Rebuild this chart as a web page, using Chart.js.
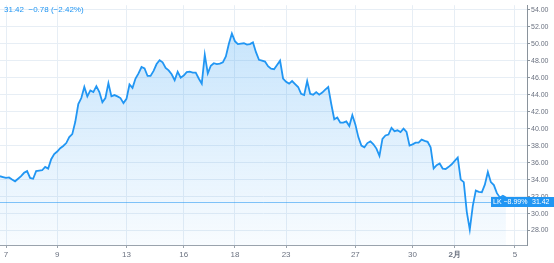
<!DOCTYPE html>
<html>
<head>
<meta charset="utf-8">
<script src="https://cdn.jsdelivr.net/npm/chart.js@4/dist/chart.umd.min.js"></script>
<style>
  html, body { margin: 0; padding: 0; background: #fff; }
  #wrap { position: relative; width: 554px; height: 263px; }
  #head { position: absolute; left: 4px; top: 5px; font: 8px "Liberation Sans", Arial, sans-serif; color: #2196f3; }
</style>
</head>
<body>
<div id="wrap">
  <canvas id="chart" width="554" height="263"></canvas>
  <div id="head">31.42 &nbsp;−0.78 (−2.42%)</div>
</div>
<script>
// slots along the time axis and the day labels shown on it
const slotCount = 176;
const tickSlots = [2, 19, 42, 61, 78, 95, 118, 137, 151, 171];
const tickText = ["7", "9", "13", "16", "18", "23", "27", "30", "2月", "5"];

// price per slot
const prices = [
  34.4, 34.3, 34.2, 34.25, 34.0, 33.8, 34.1, 34.4, 34.8, 35.0,
  34.2, 34.1, 35.0, 35.05, 35.1, 35.5, 35.3, 36.4, 37.0, 37.3,
  37.7, 37.96, 38.3, 39.0, 39.35, 40.8, 42.9, 43.6, 44.9, 43.8,
  44.5, 44.3, 45.0, 44.3, 43.1, 43.6, 45.35, 43.8, 43.95, 43.8,
  43.6, 43.0, 43.5, 45.2, 44.8, 45.9, 46.5, 47.25, 47.1, 46.2,
  46.2, 46.8, 47.6, 48.05, 47.8, 47.15, 46.85, 46.4, 45.7, 46.7,
  46.0, 46.25, 46.65, 46.7, 46.6, 46.6, 45.9, 45.3, 48.7, 46.5,
  47.4, 47.7, 47.6, 47.65, 47.8, 48.5, 50.0, 51.2, 50.3, 49.95,
  50.0, 50.05, 49.9, 49.95, 50.15, 49.0, 48.1, 48.0, 47.9, 47.35,
  47.05, 47.0, 47.5, 48.0, 45.9, 45.5, 45.3, 45.6, 45.25, 44.9,
  44.1, 43.95, 45.6, 44.1, 44.0, 44.3, 44.0, 44.25, 44.6, 44.9,
  42.9, 41.1, 41.3, 40.7, 40.7, 40.85, 40.3, 41.6, 40.5, 39.0,
  38.0, 37.8, 38.3, 38.5, 38.15, 37.65, 36.8, 38.8, 39.2, 39.3,
  40.1, 39.7, 39.8, 39.6, 40.0, 39.6, 38.0, 38.15, 38.35, 38.35,
  38.7, 38.55, 38.45, 37.8, 35.3, 35.7, 35.9, 35.3, 35.25, 35.5,
  35.8, 36.2, 36.6, 34.0, 33.7, 30.2, 28.1, 30.9, 32.7, 32.55,
  32.5, 33.4, 34.9, 33.7, 33.35, 32.4, 31.9, 32.1, 31.9
];

const yTicks = [28, 30, 32, 34, 36, 38, 40, 42, 44, 46, 48, 50, 52, 54];
const lastPrice = 31.42;
const badgeText = "LK −8.99%";

const labels = [];
for (let i = 0; i < slotCount; i++) {
  const k = tickSlots.indexOf(i);
  labels.push(k >= 0 ? tickText[k] : "");
}

const blue = "#2196f3";
const gridColor = "#e7eef5";

const priceBadge = {
  id: "priceBadge",
  afterDatasetsDraw(chart) {
    const ctx = chart.ctx;
    const area = chart.chartArea;
    const y = chart.scales.y.getPixelForValue(lastPrice);
    ctx.save();
    ctx.strokeStyle = "rgba(33,150,243,0.55)";
    ctx.lineWidth = 1;
    ctx.beginPath();
    ctx.moveTo(area.left, Math.round(y) + 0.5);
    ctx.lineTo(area.right, Math.round(y) + 0.5);
    ctx.stroke();
    ctx.fillStyle = blue;
    ctx.fillRect(area.right - 36, Math.round(y) - 5, 36 + 27, 10);
    ctx.fillStyle = "#fff";
    ctx.font = "7px 'Liberation Sans', Arial, sans-serif";
    ctx.textBaseline = "middle";
    ctx.textAlign = "left";
    ctx.fillText(badgeText, area.right - 34, y + 0.5);
    ctx.fillText(lastPrice.toFixed(2), area.right + 5, y + 0.5);
    ctx.restore();
  }
};

new Chart(document.getElementById("chart"), {
  type: "line",
  data: {
    labels: labels,
    datasets: [{
      data: prices,
      borderColor: blue,
      borderWidth: 1.8,
      pointRadius: 0,
      tension: 0,
      fill: "start",
      backgroundColor: (c) => {
        const a = c.chart.chartArea;
        if (!a) return "rgba(33,150,243,0.15)";
        const g = c.chart.ctx.createLinearGradient(0, a.top, 0, a.bottom);
        g.addColorStop(0, "rgba(33,150,243,0.28)");
        g.addColorStop(1, "rgba(33,150,243,0.03)");
        return g;
      }
    }]
  },
  options: {
    responsive: false,
    animation: false,
    layout: { padding: 0 },
    plugins: { legend: { display: false }, tooltip: { enabled: false } },
    scales: {
      x: {
        type: "category",
        offset: false,
        afterBuildTicks: (s) => { s.ticks = tickSlots.map(v => ({ value: v })); },
        afterFit: (s) => { s.height = 18; },
        border: { color: "#9aa3ad" },
        grid: { color: gridColor, tickColor: "#9aa3ad", tickLength: 3 },
        ticks: {
          autoSkip: false,
          maxRotation: 0,
          padding: 2,
          color: "#6b7280",
          callback: function (v) { return this.getLabelForValue(v); },
          font: (c) => ({
            size: 8,
            family: "'Liberation Sans', Arial, sans-serif",
            weight: c.tick && c.tick.label === "2月" ? "bold" : "normal"
          })
        }
      },
      y: {
        position: "right",
        min: 26.3,
        max: 54.53,
        afterBuildTicks: (s) => { s.ticks = yTicks.map(v => ({ value: v })); },
        afterFit: (s) => { s.width = 27; },
        border: { color: "#8a939c" },
        grid: { color: gridColor, tickColor: "#8a939c", tickLength: 3 },
        ticks: {
          padding: 1,
          color: "#6b7280",
          font: { size: 7, family: "'Liberation Sans', Arial, sans-serif" },
          callback: (v) => v.toFixed(2)
        }
      }
    }
  },
  plugins: [priceBadge]
});
</script>
</body>
</html>
